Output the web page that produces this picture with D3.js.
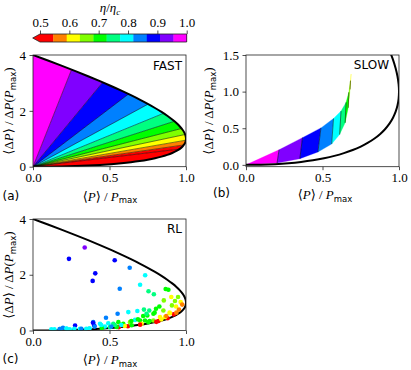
<!DOCTYPE html>
<html><head><meta charset="utf-8">
<script src="https://cdn.jsdelivr.net/npm/d3@7"></script>
<style>body{margin:0;background:#fff}</style>
</head><body>
<svg id="c" width="411" height="370"></svg>
<script>
// ---------- data ----------
const levels = [0.5,0.545,0.591,0.636,0.682,0.727,0.773,0.818,0.864,0.909,0.955,1.0];
const bandColors = ["#ff0000","#ff8000","#ffff00","#80ff00","#00ff00","#00ff80","#00ffff","#0080ff","#0000ff","#8000ff","#ff00ff"];
const cbTicks = [0.5,0.6,0.7,0.8,0.9,1.0];
const xTicks = [0,0.5,1.0];
const yTicksFast = [0,2,4];
const yTicksSlow = [0,0.5,1.0,1.5];
const yTicksRL = [0,2,4];
// theoretical bound
const boundX = [0,0.0975,0.19,0.2775,0.36,0.4375,0.51,0.5775,0.64,0.6975,0.75,0.7975,0.84,0.8775,0.91,0.9375,0.96,0.9775,0.99,0.9975,1,0.9975,0.99,0.9775,0.96,0.9375,0.91,0.8775,0.84,0.7975,0.75,0.6975,0.64,0.5775,0.51,0.4375,0.36,0.2775,0.19,0.0975,0];
const boundY = [4,3.8025,3.61,3.4225,3.24,3.0625,2.89,2.7225,2.56,2.4025,2.25,2.1025,1.96,1.8225,1.69,1.5625,1.44,1.3225,1.21,1.1025,1,0.9025,0.81,0.7225,0.64,0.5625,0.49,0.4225,0.36,0.3025,0.25,0.2025,0.16,0.1225,0.09,0.0625,0.04,0.0225,0.01,0.0025,0];
// FAST: slope of iso-efficiency rays at levels[0..10]
const fastSlopes = [0.66,0.79,0.95,1.16,1.41,1.76,2.24,2.98,4.17,6.63,13.8];
// SLOW: band boundaries (upper / lower ends) and band efficiencies
const slowUpperX = [0,0.216,0.369,0.49,0.572,0.621,0.654,0.672,0.683,0.687];
const slowUpperY = [0,0.206,0.371,0.505,0.633,0.734,0.853,0.99,1.15,1.24];
const slowLowerX = [0,0.203,0.352,0.47,0.56,0.612,0.648,0.668,0.68,0.687];
const slowLowerY = [0,0.025,0.085,0.175,0.285,0.415,0.575,0.78,1.03,1.24];
const slowBandEta = [0.98,0.93,0.89,0.84,0.80,0.75,0.70,0.66,0.61];
// RL points
const rlX = [0.338,0.235,0.534,0.632,0.733,0.407,0.390,0.567,0.700,0.755,0.790,0.867,0.885,0.948,0.928,0.965,0.908,0.935,0.975,0.954,0.920,0.895,0.852,0.826,0.804,0.787,0.760,0.747,0.725,0.682,0.623,0.553,0.477,0.438,0.394,0.400,0.492,0.525,0.558,0.590,0.634,0.667,0.700,0.732,0.710,0.754,0.787,0.820,0.880,0.700,0.560,0.362,0.620,0.830,0.863,0.645,0.600,0.547,0.503,0.470,0.449,0.307,0.275,0.270,0.220,0.180,0.120,0.140,0.174,0.196,0.218,0.240,0.316,0.348,0.370,0.392,0.643,0.686,0.720,0.742,0.795,0.762,0.806,0.839,0.871,0.893,0.937,0.534,0.577,0.512,0.446,0.403,0.855,0.904];
const rlY = [2.98,2.57,2.52,2.25,1.98,2.05,1.78,1.50,1.64,1.41,1.30,1.49,1.46,1.20,1.06,1.02,0.90,0.86,0.93,0.75,0.58,0.62,0.72,0.86,0.78,0.60,0.72,0.54,0.75,0.70,0.66,0.60,0.46,0.24,0.30,0.18,0.26,0.24,0.30,0.24,0.30,0.38,0.36,0.36,0.24,0.30,0.36,0.34,0.44,0.21,0.12,0.05,0.15,0.48,0.48,0.19,0.16,0.13,0.12,0.14,0.09,0.06,0.18,0.06,0.06,0.06,0.04,0.04,0.05,0.10,0.07,0.04,0.06,0.06,0.08,0.28,0.34,0.40,0.52,0.60,0.64,0.34,0.31,0.40,0.52,0.64,0.64,0.20,0.20,0.14,0.20,0.14,1.08,1.20];
const rlEta = [0.93,0.89,0.88,0.84,0.80,0.89,0.87,0.84,0.80,0.76,0.75,0.70,0.69,0.66,0.65,0.61,0.66,0.61,0.57,0.57,0.52,0.61,0.66,0.70,0.70,0.70,0.75,0.70,0.75,0.80,0.80,0.84,0.84,0.80,0.84,0.88,0.80,0.75,0.70,0.70,0.66,0.80,0.70,0.70,0.61,0.70,0.66,0.52,0.52,0.52,0.52,0.52,0.52,0.61,0.61,0.70,0.61,0.70,0.75,0.80,0.70,0.80,0.87,0.80,0.80,0.80,0.80,0.80,0.84,0.84,0.80,0.80,0.84,0.80,0.80,0.87,0.70,0.70,0.70,0.75,0.70,0.70,0.52,0.61,0.57,0.61,0.57,0.75,0.80,0.84,0.80,0.84,0.66,0.63];

// ---------- helpers ----------
const svg = d3.select("#c");
const SERIF = "Liberation Serif, DejaVu Serif, serif";
const SANS = "DejaVu Sans, sans-serif";
function etaColor(e){
  let i = 0;
  for (let k = 0; k < levels.length - 1; k++) if (e >= levels[k]) i = k;
  return bandColors[Math.min(i, bandColors.length - 1)];
}
const bound = boundX.map((x,i)=>[x, boundY[i]]);

function panel(id, x0, x1, yTop, yBot, yDom, yTicks, yFmt){
  const x = d3.scaleLinear().domain([0,1]).range([x0,x1]);
  const y = d3.scaleLinear().domain(yDom).range([yBot,yTop]);
  const g = svg.append("g");
  const defs = svg.append("defs");
  defs.append("clipPath").attr("id","rect"+id).append("rect")
    .attr("x",x0).attr("y",yTop).attr("width",x1-x0).attr("height",yBot-yTop);
  const plot = g.append("g").attr("clip-path",`url(#rect${id})`);
  const ax = g.append("g").attr("transform",`translate(0,${yBot})`)
    .call(d3.axisBottom(x).tickValues(xTicks).tickFormat(d3.format(".1f")).tickSize(3.5).tickPadding(3));
  const ay = g.append("g").attr("transform",`translate(${x0},0)`)
    .call(d3.axisLeft(y).tickValues(yTicks).tickFormat(yFmt).tickSize(3.5).tickPadding(3.5));
  [ax, ay].forEach(a=>{
    a.attr("font-family",SERIF).attr("font-size",13);
    a.select(".domain").remove();
    a.selectAll("line").attr("stroke","#222").attr("stroke-width",0.8);
    a.selectAll("text").attr("font-family",SERIF).attr("font-size",13).attr("fill","#000");
  });
  return {x, y, g, plot, defs, x0, x1, yTop, yBot};
}
function frame(p){
  p.g.append("rect").attr("x",p.x0).attr("y",p.yTop).attr("width",p.x1-p.x0).attr("height",p.yBot-p.yTop)
    .attr("fill","none").attr("stroke","#222").attr("stroke-width",0.8);
}
function boundCurve(p){
  const line = d3.line().x(d=>p.x(d[0])).y(d=>p.y(d[1])).curve(d3.curveCatmullRom);
  p.plot.append("path").attr("d",line(bound)).attr("fill","none").attr("stroke","#000").attr("stroke-width",2);
}
function xLabel(cx, yb){
  const t = svg.append("text").attr("x",cx).attr("y",yb).attr("text-anchor","middle")
    .attr("font-family",SERIF).attr("font-size",13);
  t.append("tspan").text("⟨");
  t.append("tspan").attr("font-style","italic").text("P");
  t.append("tspan").text("⟩ / ");
  t.append("tspan").attr("font-style","italic").text("P");
  t.append("tspan").attr("font-family",SANS).attr("font-size",8.5).attr("dy",2.5).text("max");
}
function yLabel(cx, cy){
  const t = svg.append("text").attr("transform",`translate(${cx},${cy}) rotate(-90)`).attr("text-anchor","middle")
    .attr("font-family",SERIF).attr("font-size",13);
  t.append("tspan").text("⟨Δ");
  t.append("tspan").attr("font-style","italic").text("P");
  t.append("tspan").text("⟩ / Δ");
  t.append("tspan").attr("font-style","italic").text("P");
  t.append("tspan").text("(");
  t.append("tspan").attr("font-style","italic").text("P");
  t.append("tspan").attr("font-family",SANS).attr("font-size",8.5).attr("dy",2.5).text("max");
  t.append("tspan").attr("dy",-2.5).text(")");
}
function tag(x, yb, s){
  svg.append("text").attr("x",x).attr("y",yb).attr("font-family",SANS).attr("font-size",12).text(s);
}
function tagR(x, yb, s){
  svg.append("text").attr("x",x).attr("y",yb).attr("text-anchor","end").attr("font-family",SANS).attr("font-size",12).text(s);
}

// ---------- colorbar ----------
{
  const cx = d3.scaleLinear().domain([0.5,1.0]).range([40,186.7]);
  const cy0 = 34, cy1 = 42;
  const cb = svg.append("g");
  for (let i = 0; i < bandColors.length; i++){
    cb.append("rect").attr("x",cx(levels[i])).attr("y",cy0).attr("width",cx(levels[i+1])-cx(levels[i])+0.3)
      .attr("height",cy1-cy0).attr("fill",bandColors[i]);
  }
  cb.append("path").attr("d",`M${cx(0.5)},${cy0}L${cx(0.5)-7.3},${(cy0+cy1)/2}L${cx(0.5)},${cy1}Z`).attr("fill",bandColors[0]);
  cb.append("path").attr("d",`M${cx(0.5)},${cy0}L${cx(1)},${cy0}L${cx(1)},${cy1}L${cx(0.5)},${cy1}L${cx(0.5)-7.3},${(cy0+cy1)/2}Z`)
    .attr("fill","none").attr("stroke","#222").attr("stroke-width",0.8);
  const a = cb.append("g").attr("transform",`translate(0,${cy0})`)
    .call(d3.axisTop(cx).tickValues(cbTicks).tickFormat(d3.format(".1f")).tickSize(3.5).tickPadding(3.5));
  a.attr("font-family",SERIF).attr("font-size",13);
  a.select(".domain").remove();
  a.selectAll("line").attr("stroke","#222").attr("stroke-width",0.8);
  a.selectAll("text").attr("font-family",SERIF).attr("font-size",13);
  const t = svg.append("text").attr("x",110).attr("y",12).attr("text-anchor","middle").attr("font-family",SERIF).attr("font-size",13);
  t.append("tspan").attr("font-style","italic").text("η");
  t.append("tspan").text("/");
  t.append("tspan").attr("font-style","italic").text("η");
  t.append("tspan").attr("font-size",9).attr("dy",2.5).attr("font-style","italic").text("c");
}

// ---------- (a) FAST ----------
{
  const p = panel("A", 33, 186, 55, 166.7, [0,4], yTicksFast, d3.format("d"));
  p.defs.append("clipPath").attr("id","regA").append("path")
    .attr("d", d3.line().x(d=>p.x(d[0])).y(d=>p.y(d[1])).curve(d3.curveCatmullRom)(bound)+"Z");
  const wg = p.plot.append("g").attr("clip-path","url(#regA)");
  const L = 10;
  const angs = [-0.2].concat(fastSlopes.map(s=>Math.atan(s))).concat([Math.PI/2+0.2]);
  const cols = [bandColors[0]].concat(bandColors);
  const far = a => [L*Math.cos(a), L*Math.sin(a)];
  for (let i = 0; i < angs.length-1; i++){
    const A = far(angs[i]), B = far(angs[i+1]);
    wg.append("path").attr("d",`M${p.x(0)},${p.y(0)}L${p.x(A[0])},${p.y(A[1])}L${p.x(B[0])},${p.y(B[1])}Z`)
      .attr("fill",cols[i]).attr("stroke",cols[i]).attr("stroke-width",0.3);
  }
  fastSlopes.forEach(s=>{
    const A = far(Math.atan(s));
    wg.append("line").attr("x1",p.x(0)).attr("y1",p.y(0)).attr("x2",p.x(A[0])).attr("y2",p.y(A[1]))
      .attr("stroke","#000").attr("stroke-width",0.5);
  });
  boundCurve(p);
  frame(p);
  xLabel(110, 200.5);
  yLabel(13, 111);
  tag(2.5, 199.5, "(a)");
  tagR(182, 69.5, "FAST");
}

// ---------- (b) SLOW ----------
{
  const p = panel("B", 246, 399, 55, 166.7, [-0.025,1.5], yTicksSlow, d3.format(".1f"));
  for (let k = 0; k < slowBandEta.length; k++){
    const pts = [[slowUpperX[k],slowUpperY[k]],[slowUpperX[k+1],slowUpperY[k+1]],
                 [slowLowerX[k+1],slowLowerY[k+1]],[slowLowerX[k],slowLowerY[k]]];
    const c = etaColor(slowBandEta[k]);
    p.plot.append("path").attr("d","M"+pts.map(d=>[p.x(d[0]),p.y(d[1])].join(",")).join("L")+"Z")
      .attr("fill",c).attr("stroke",c).attr("stroke-width",0.3);
  }
  for (let k = 1; k < slowUpperX.length-1; k++){
    p.plot.append("line").attr("x1",p.x(slowUpperX[k])).attr("y1",p.y(slowUpperY[k]))
      .attr("x2",p.x(slowLowerX[k])).attr("y2",p.y(slowLowerY[k])).attr("stroke","#000").attr("stroke-width",0.5);
  }
  boundCurve(p);
  frame(p);
  xLabel(325, 199);
  yLabel(213, 111);
  tag(213, 197, "(b)");
  tagR(389, 69, "SLOW");
}

// ---------- (c) RL ----------
{
  const p = panel("C", 33, 186, 219, 330.5, [0,4], yTicksRL, d3.format("d"));
  boundCurve(p);
  p.plot.selectAll("circle").data(rlX).join("circle")
    .attr("cx",(d)=>p.x(d)).attr("cy",(d,i)=>p.y(rlY[i])).attr("r",2.3)
    .attr("fill",(d,i)=>etaColor(rlEta[i]));
  frame(p);
  xLabel(110, 364);
  yLabel(13, 275);
  tag(2.5, 363, "(c)");
  tagR(182, 233, "RL");
}
</script>
</body></html>
